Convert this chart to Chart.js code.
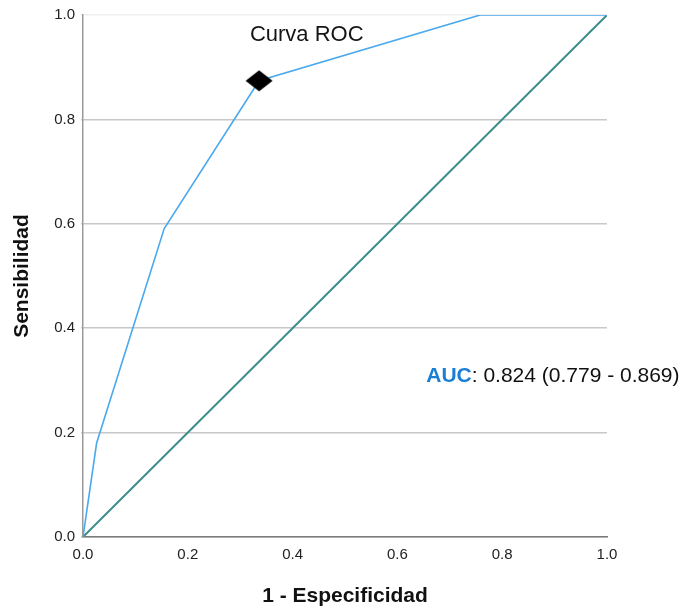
<!DOCTYPE html>
<html>
<head>
<meta charset="utf-8">
<script src="https://cdn.jsdelivr.net/npm/chart.js@4"></script>
<style>
  html, body { margin: 0; padding: 0; background: #fff; }
  #wrap { width: 687px; height: 612px; position: relative; }
</style>
</head>
<body>
<div id="wrap"><canvas id="c" width="687" height="612"></canvas></div>
<script>
// ROC curve points (1 - especificidad, sensibilidad)
const rocX = [0, 0.026, 0.155, 0.336, 0.758, 1.0];
const rocY = [0, 0.18, 0.591, 0.874, 1.0, 1.0];
// Reference diagonal
const refX = [0, 1];
const refY = [0, 1];
// Optimal cut-off point
const cutX = [0.336];
const cutY = [0.874];
const tickValues = [0, 0.2, 0.4, 0.6, 0.8, 1.0];
const titleText = 'Curva ROC';
const aucLabel = 'AUC';
const aucText = ': 0.824 (0.779 - 0.869)';

const FONT = '"Liberation Sans", Arial, sans-serif';

// flattened diamond marker
const dia = document.createElement('canvas');
dia.width = 28; dia.height = 22;
(function(){
  const g = dia.getContext('2d');
  g.fillStyle = '#000';
  g.beginPath();
  g.moveTo(14, 0.5); g.lineTo(27.5, 11); g.lineTo(14, 21.5); g.lineTo(0.5, 11);
  g.closePath(); g.fill();
})();

const textPlugin = {
  id: 'texts',
  afterDatasetsDraw(chart) {
    const ctx = chart.ctx;
    const xs = chart.scales.x, ys = chart.scales.y;
    ctx.save();
    ctx.font = '22px ' + FONT;
    ctx.fillStyle = '#151515';
    ctx.textAlign = 'center';
    ctx.textBaseline = 'middle';
    ctx.fillText(titleText, xs.getPixelForValue(0.427), ys.getPixelForValue(0.962));
    ctx.textAlign = 'left';
    const ax = xs.getPixelForValue(0.655), ay = ys.getPixelForValue(0.308);
    ctx.font = 'bold 21px ' + FONT;
    ctx.fillStyle = '#1a7fd4';
    ctx.fillText(aucLabel, ax, ay);
    const w = ctx.measureText(aucLabel).width;
    ctx.font = '21px ' + FONT;
    ctx.fillStyle = '#111';
    ctx.fillText(aucText, ax + w, ay);
    ctx.restore();
  }
};

new Chart(document.getElementById('c'), {
  type: 'line',
  data: {
    datasets: [
      {
        data: cutX.map((x, i) => ({x, y: cutY[i]})),
        pointStyle: dia, pointRadius: 11, showLine: false, order: 0
      },
      {
        data: rocX.map((x, i) => ({x, y: rocY[i]})),
        borderColor: '#4aa9ee', borderWidth: 1.6, pointRadius: 0, tension: 0, order: 1
      },
      {
        data: refX.map((x, i) => ({x, y: refY[i]})),
        borderColor: '#3e8e8b', borderWidth: 2, pointRadius: 0, tension: 0, order: 2
      }
    ]
  },
  options: {
    responsive: false,
    animation: false,
    layout: { padding: { left: 0, right: 80, top: 14, bottom: 0 } },
    plugins: { legend: { display: false }, tooltip: { enabled: false } },
    scales: {
      x: {
        type: 'linear', min: 0, max: 1,
        afterBuildTicks(s) { s.ticks = tickValues.map(v => ({value: v})); },
        afterFit(s) { s.height = 75; },
        grid: { display: false, drawTicks: false },
        border: { display: true, color: '#7a7a7a', width: 1.5 },
        ticks: { padding: 9, color: '#222', font: { family: FONT, size: 15 }, callback: v => v.toFixed(1), maxRotation: 0 },
        title: { display: true, text: '1 - Especificidad', color: '#111', font: { family: FONT, size: 21, weight: 'bold' }, padding: { top: 10, bottom: 3 } }
      },
      y: {
        type: 'linear', min: 0, max: 1,
        afterBuildTicks(s) { s.ticks = tickValues.map(v => ({value: v})); },
        afterFit(s) { s.width = 83; },
        grid: {
          color: ctx => ctx.tick && ctx.tick.value === 1 ? '#efefef' : '#c8c8c8',
          lineWidth: 1.5, drawTicks: true, tickLength: 2
        },
        border: { display: true, color: '#9a9a9a', width: 1.5 },
        ticks: { padding: 6, color: '#222', font: { family: FONT, size: 15 }, callback: v => v.toFixed(1) },
        title: { display: true, text: 'Sensibilidad', color: '#111', font: { family: FONT, size: 21, weight: 'bold' }, padding: { top: 10, bottom: 0 } }
      }
    }
  },
  plugins: [textPlugin]
});
</script>
</body>
</html>
